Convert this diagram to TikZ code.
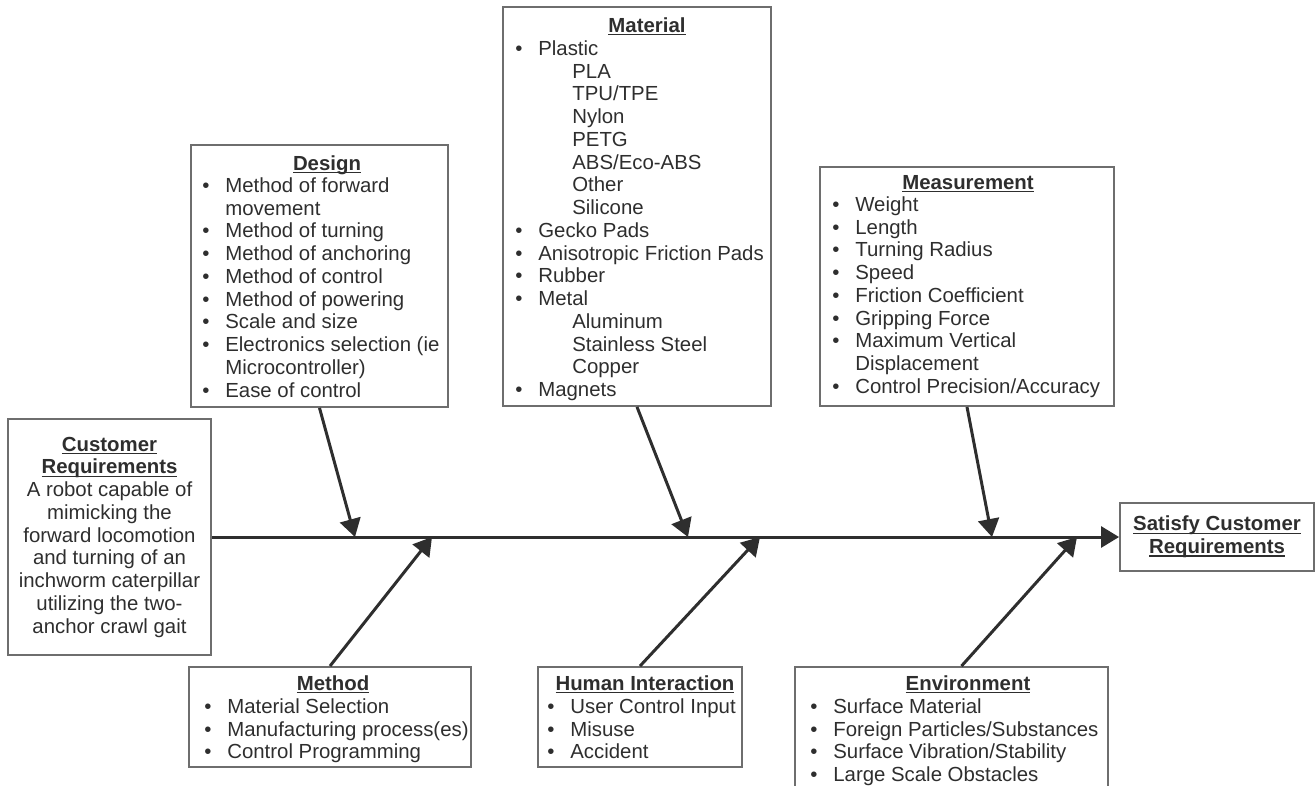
\documentclass[tikz,border=0pt]{standalone}
\usepackage{fontspec}
\setmainfont{Liberation Sans}
\usetikzlibrary{arrows.meta, positioning, calc}
\definecolor{Ink} {HTML}{2E2E2E}
\definecolor{Edge}{HTML}{6E6E6E}
\newcommand{\fs}{\fontsize{11.6}{12.95}\selectfont}
\newcommand{\itm}{\makebox[0.46cm][l]{\textbullet}}
\newcommand{\contd}{\hspace*{0.46cm}}
\newcommand{\subit}{\hspace*{1.14cm}}
\newsavebox{\hdrbox}
\newcommand{\hdr}[1]{\sbox\hdrbox{\textbf{#1}}\rlap{\rule[-1.7pt]{\wd\hdrbox}{0.7pt}}\usebox\hdrbox}
\tikzset{
  box/.style={draw=Edge, line width=1.1pt, inner sep=0pt, align=center, text=Ink},
  lst/.style={anchor=north west, align=left, inner sep=0pt, text=Ink},
  hd/.style={anchor=base, inner sep=0pt, text=Ink},
  bone/.style={-{Triangle[length=0.36cm,width=0.42cm]}, line width=1.7pt, color=Ink}
}

\begin{document}
\begin{tikzpicture}[x=0.02cm, y=-0.02cm, font=\fs]
  \useasboundingbox (0,0) rectangle (1315,785);
  % head and tail
  \node[box, minimum width=4.06cm, minimum height=4.72cm] (cust) at (109.5,537)
    {\hdr{Customer}\\ \hdr{Requirements}\\ A robot capable of\\ mimicking the\\
     forward locomotion\\ and turning of an\\ inchworm caterpillar\\ utilizing the two-\\
     anchor crawl gait};
  \node[box, minimum width=3.88cm, minimum height=1.36cm] (sat) at (1217,537)
    {\hdr{Satisfy Customer}\\ \hdr{Requirements}};
  % upper bones
  \node[box, minimum width=5.14cm, minimum height=5.24cm] (dsgn) at (319.5,276) {};
  \node[hd] (dsgn-t) at (327,170) {\hdr{Design}};
  \node[lst] (dsgn-l) at (202,176)
    {\strut\itm Method of forward\\ \contd movement\\ \itm Method of turning\\
     \itm Method of anchoring\\ \itm Method of control\\ \itm Method of powering\\
     \itm Scale and size\\ \itm Electronics selection (ie\\ \contd Microcontroller)\\
     \itm Ease of control};
  \node[box, minimum width=5.36cm, minimum height=7.98cm] (matl) at (637,206.5) {};
  \node[hd] (matl-t) at (647,32) {\hdr{Material}};
  \node[lst] (matl-l) at (515,39)
    {\strut\itm Plastic\\ \subit PLA\\ \subit TPU/TPE\\ \subit Nylon\\ \subit PETG\\
     \subit ABS/Eco-ABS\\ \subit Other\\ \subit Silicone\\ \itm Gecko Pads\\
     \itm Anisotropic Friction Pads\\ \itm Rubber\\ \itm Metal\\ \subit Aluminum\\
     \subit Stainless Steel\\ \subit Copper\\ \itm Magnets};
  \node[box, minimum width=5.88cm, minimum height=4.78cm] (meas) at (967,286.5) {};
  \node[hd] (meas-t) at (968,189) {\hdr{Measurement}};
  \node[lst] (meas-l) at (832,195)
    {\strut\itm Weight\\ \itm Length\\ \itm Turning Radius\\ \itm Speed\\
     \itm Friction Coefficient\\ \itm Gripping Force\\ \itm Maximum Vertical\\
     \contd Displacement\\ \itm Control Precision/Accuracy};
  % lower bones
  \node[box, minimum width=5.64cm, minimum height=2.0cm] (mthd) at (330,717) {};
  \node[hd] (mthd-t) at (333,690) {\hdr{Method}};
  \node[lst] (mthd-l) at (204,697)
    {\strut\itm Material Selection\\ \itm Manufacturing process(es)\\ \itm Control Programming};
  \node[box, minimum width=4.08cm, minimum height=2.0cm] (hman) at (640,717) {};
  \node[hd] (hman-t) at (645,690) {\hdr{Human Interaction}};
  \node[lst] (hman-l) at (547,697)
    {\strut\itm User Control Input\\ \itm Misuse\\ \itm Accident};
  \node[box, minimum width=6.26cm, minimum height=2.66cm] (envr) at (951.5,733.5) {};
  \node[hd] (envr-t) at (968,690) {\hdr{Environment}};
  \node[lst] (envr-l) at (810,697)
    {\strut\itm Surface Material\\ \itm Foreign Particles/Substances\\
     \itm Surface Vibration/Stability\\ \itm Large Scale Obstacles};
  % where the bones meet the spine
  \coordinate (dsgn-x) at (355,537);
  \coordinate (mthd-x) at (432,537);
  \coordinate (matl-x) at (688,537);
  \coordinate (hman-x) at (760,537);
  \coordinate (meas-x) at (992,537);
  \coordinate (envr-x) at (1077,537);
  \draw[bone] (cust.east) -- (sat.west);
  \draw[bone] (dsgn.south) -- (dsgn-x);
  \draw[bone] (matl.south) -- (matl-x);
  \draw[bone] (meas.south) -- (meas-x);
  \draw[bone] (mthd.north) -- (mthd-x);
  \draw[bone] (hman.north) -- (hman-x);
  \draw[bone] ($(envr.north)+(10,0)$) -- (envr-x);
\end{tikzpicture}
\end{document}
